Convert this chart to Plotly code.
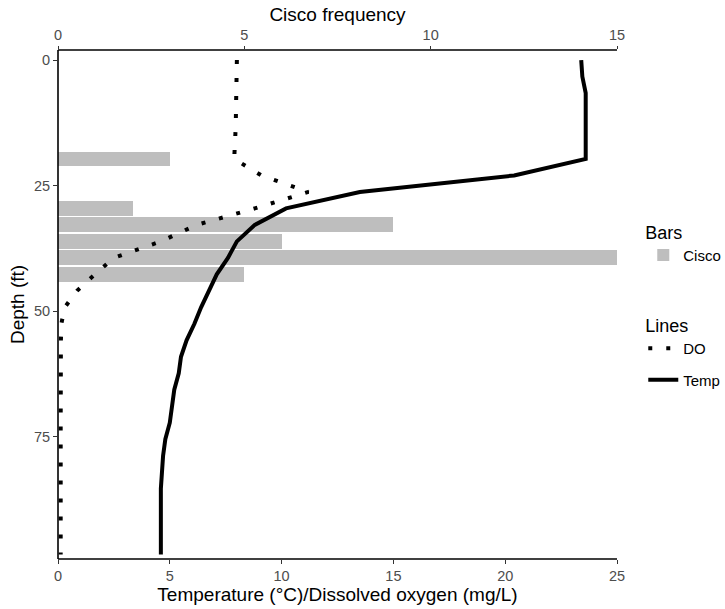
import plotly.graph_objects as go

FT_PER_M = 3.28084

# Profile depths (m) and values
depth_m = list(range(0, 31))
temp_c = [23.4, 23.45, 23.6, 23.6, 23.6, 23.6, 23.6, 20.4, 13.5, 10.2, 8.8,
          8.0, 7.6, 7.1, 6.75, 6.4, 6.1, 5.75, 5.5, 5.4, 5.2,
          5.1, 5.0, 4.8, 4.7, 4.65, 4.6, 4.6, 4.6, 4.6, 4.6]
do_mgl = [8.0, 8.0, 7.98, 7.96, 7.95, 7.9, 7.88, 9.1, 11.2, 8.8, 6.2,
          4.6, 2.5, 1.65, 0.85, 0.3, 0.15, 0.13, 0.12, 0.12, 0.12,
          0.12, 0.12, 0.12, 0.12, 0.12, 0.12, 0.12, 0.12, 0.12, 0.12]

# Cisco catches by depth (m)
cisco_depth_m = [6, 9, 10, 11, 12, 13]
cisco_freq = [3, 2, 9, 6, 15, 5]

depth_ft = [d * FT_PER_M for d in depth_m]
cisco_depth_ft = [d * FT_PER_M for d in cisco_depth_m]

FONT = "Liberation Sans, Arial, sans-serif"
TICK_COL = "#4D4D4D"

fig = go.Figure()

fig.add_trace(go.Bar(
    x=cisco_freq, y=cisco_depth_ft, orientation="h",
    width=0.9 * FT_PER_M, marker=dict(color="#BEBEBE", line=dict(width=0)),
    name="Cisco", xaxis="x", yaxis="y", legend="legend",
))
fig.add_trace(go.Scatter(
    x=do_mgl, y=depth_ft, mode="lines", name="DO",
    line=dict(color="black", width=4, dash="4px,14px"),
    xaxis="x2", yaxis="y", legend="legend2", legendgroup="do",
))
fig.add_trace(go.Scatter(
    x=temp_c, y=depth_ft, mode="lines", name="Temp",
    line=dict(color="black", width=4),
    xaxis="x2", yaxis="y", legend="legend2", legendgroup="temp",
))

axis_common = dict(
    showgrid=False, zeroline=False, showline=False,
    automargin=False,
    ticks="outside", ticklen=4, tickwidth=1.2, tickcolor="#333333",
    tickfont=dict(family=FONT, size=14.5, color=TICK_COL),
)

# axis lines (frame pieces as in the reference: left, top, bottom)
frame = [
    dict(type="line", xref="paper", yref="paper", x0=0, x1=0, y0=0, y1=1),
    dict(type="line", xref="paper", yref="paper", x0=0, x1=1, y0=1, y1=1),
    dict(type="line", xref="paper", yref="paper", x0=0, x1=1, y0=0, y1=0),
]
for s in frame:
    s["line"] = dict(color="black", width=1.6)
    s["layer"] = "above"

fig.update_layout(
    width=725, height=609,
    margin=dict(l=58, r=108, t=50, b=50, autoexpand=False),
    paper_bgcolor="white", plot_bgcolor="white",
    font=dict(family=FONT, color="black"),
    shapes=frame,
    xaxis=dict(
        **axis_common, side="top", range=[0, 15], tickvals=[0, 5, 10, 15],
        title=dict(text="Cisco frequency", font=dict(family=FONT, size=19), standoff=0),
    ),
    xaxis2=dict(
        **axis_common, side="bottom", overlaying="x", range=[0, 25],
        tickvals=[0, 5, 10, 15, 20, 25],
        title=dict(text="Temperature (°C)/Dissolved oxygen (mg/L)", font=dict(family=FONT, size=19), standoff=2),
    ),
    yaxis=dict(
        **axis_common, range=[99.3, -2.0], tickvals=[0, 25, 50, 75],
        title=dict(text="Depth (ft)", font=dict(family=FONT, size=19), standoff=4),
    ),
    bargap=0,
    legend=dict(
        x=1.047, y=0.675, xanchor="left", yanchor="top",
        title=dict(text="Bars", font=dict(family=FONT, size=18)),
        font=dict(family=FONT, size=15), bgcolor="rgba(0,0,0,0)",
    ),
    legend2=dict(
        x=1.047, y=0.492, xanchor="left", yanchor="top",
        title=dict(text="Lines", font=dict(family=FONT, size=18)),
        font=dict(family=FONT, size=15), bgcolor="rgba(0,0,0,0)",
        tracegroupgap=9,
    ),
    showlegend=True,
)

fig.update_xaxes(ticklen=3, selector=dict(side="top"))

fig.write_html("out.html", post_script="document.body.style.margin='0px';",
               config={"displayModeBar": False})
